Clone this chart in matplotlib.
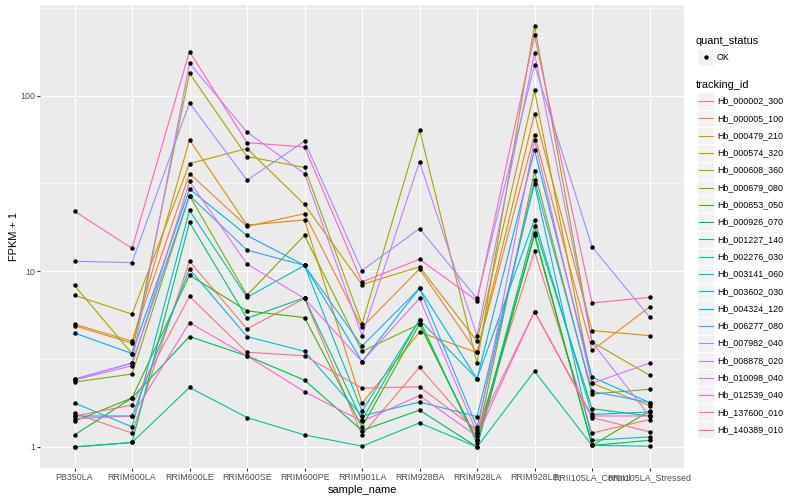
import numpy as np
import matplotlib.pyplot as plt
from matplotlib.lines import Line2D
from matplotlib.patches import Rectangle

plt.rcParams['font.family'] = ['Liberation Sans', 'DejaVu Sans']

samples = ['PB350LA', 'RRIM600LA', 'RRIM600LE', 'RRIM600SE', 'RRIM600PE', 'RRIM901LA',
           'RRIM928BA', 'RRIM928LA', 'RRIM928LE', 'RRII105LA_Control', 'RRII105LA_Stressed']

genes = ['Hb_000002_300', 'Hb_000005_100', 'Hb_000479_210', 'Hb_000574_320', 'Hb_000608_360',
         'Hb_000679_080', 'Hb_000853_050', 'Hb_000926_070', 'Hb_001227_140', 'Hb_002276_030',
         'Hb_003141_060', 'Hb_003602_030', 'Hb_004324_120', 'Hb_006277_080', 'Hb_007982_040',
         'Hb_008878_020', 'Hb_010098_040', 'Hb_012539_040', 'Hb_137600_010', 'Hb_140389_010']

# FPKM + 1, one list per tracking_id, in sample order
hb_000002_300 = [1.55, 1.2, 11.4, 4.7, 7.0, 1.17, 2.84, 1.2, 13, 1.2, 1.43]
hb_000005_100 = [5.0, 4.0, 36, 18, 21.3, 4.8, 10.3, 3.45, 60, 3.54, 6.25]
hb_000479_210 = [4.9, 3.9, 56, 18.3, 19.6, 1.77, 4.5, 3.45, 79, 4.6, 4.3]
hb_000574_320 = [7.3, 5.7, 41, 50, 24, 8.4, 10.6, 4.0, 107, 2.3, 1.72]
hb_000608_360 = [8.3, 3.4, 134, 45, 39, 5.0, 64, 3.0, 250, 3.96, 2.56]
hb_000679_080 = [2.34, 2.6, 27, 7.3, 16, 3.5, 5.0, 1.1, 37, 2.0, 2.13]
hb_000853_050 = [1.4, 1.9, 9.5, 5.95, 5.45, 1.3, 5.0, 1.1, 16, 1.02, 1.6]
hb_000926_070 = [1.17, 1.9, 4.25, 3.3, 2.4, 1.24, 1.62, 1.0, 16.5, 1.02, 1.09]
hb_001227_140 = [1.0, 1.06, 19, 5.4, 7.06, 1.42, 5.3, 1.05, 18, 1.65, 1.5]
hb_002276_030 = [1.0, 1.06, 2.18, 1.47, 1.17, 1.01, 1.37, 1.0, 2.7, 1.02, 1.01]
hb_003141_060 = [1.78, 1.3, 22.2, 7.1, 10.8, 1.6, 5.3, 2.44, 19.7, 1.53, 1.58]
hb_003602_030 = [1.5, 1.5, 10.3, 4.25, 3.5, 1.5, 1.8, 1.49, 31.5, 1.09, 1.14]
hb_004324_120 = [4.45, 3.4, 29.4, 16, 10.8, 3.06, 8.0, 2.44, 49, 2.5, 1.79]
hb_006277_080 = [2.43, 3.0, 27, 13.2, 10.8, 3.75, 8.0, 1.3, 33, 2.07, 1.79]
hb_007982_040 = [11.4, 11.2, 91, 33, 55, 10.1, 17.5, 7.0, 150, 13.8, 5.5]
hb_008878_020 = [2.43, 3.0, 153, 62, 36, 4.3, 42, 4.3, 175, 3.96, 1.5]
hb_010098_040 = [2.4, 2.9, 32.5, 11.0, 7.0, 3.06, 7.0, 1.2, 56, 2.3, 3.0]
hb_012539_040 = [1.45, 1.5, 5.1, 3.3, 2.06, 1.4, 1.96, 1.15, 5.9, 1.5, 1.5]
hb_137600_010 = [22, 13.5, 178, 54, 51, 8.7, 11.7, 6.8, 220, 6.6, 7.1]
hb_140389_010 = [1.5, 1.73, 7.2, 3.46, 3.3, 2.16, 2.2, 1.25, 5.9, 1.47, 1.22]

series = [hb_000002_300, hb_000005_100, hb_000479_210, hb_000574_320, hb_000608_360,
          hb_000679_080, hb_000853_050, hb_000926_070, hb_001227_140, hb_002276_030,
          hb_003141_060, hb_003602_030, hb_004324_120, hb_006277_080, hb_007982_040,
          hb_008878_020, hb_010098_040, hb_012539_040, hb_137600_010, hb_140389_010]

# ggplot default hue palette for 20 levels
colors = ['#F8766D', '#EA8331', '#D89000', '#C09B00', '#A3A500', '#7CAE00', '#39B600',
          '#00BB4E', '#00BF7D', '#00C1A3', '#00BFC4', '#00BAE0', '#00B0F6', '#35A2FF',
          '#9590FF', '#C77CFF', '#E76BF3', '#FA62DB', '#FF62BC', '#FF6C91']

W, H = 800, 500
fig = plt.figure(figsize=(8, 5), dpi=100)
L, R, T, B = 40, 684, 5, 468
ax = fig.add_axes([L / W, 1 - B / H, (R - L) / W, (B - T) / H])
ax.set_facecolor('#EBEBEB')
for s in ax.spines.values():
    s.set_visible(False)

x = np.arange(len(samples))
for vals, c in zip(series, colors):
    ax.plot(x, vals, color=c, lw=0.8, zorder=3)
for vals in series:
    ax.plot(x, vals, 'o', color='black', ms=3.2, mew=0, zorder=4)

ax.set_yscale('log')
ax.set_yticks([1, 10, 100])
ax.set_yticklabels(['1', '10', '100'])
ax.set_yticks([10 ** 0.5, 10 ** 1.5, 10 ** 2.5], minor=True)
ax.yaxis.set_minor_formatter(plt.NullFormatter())
ax.set_xticks(x)
ax.set_xticklabels(samples)
# limits after ticks, so the ticks do not widen the view
ax.set_ylim(10 ** -0.12, 10 ** 2.516)
ax.set_xlim(-0.6, len(samples) - 0.4)
ax.grid(True, which='major', color='white', lw=0.8, zorder=0)
ax.grid(True, which='minor', axis='y', color='white', lw=0.4, zorder=0)
ax.set_axisbelow(True)
ax.tick_params(which='major', length=2, width=0.77, color='#333333',
               labelsize=6.4, labelcolor='#4D4D4D', pad=1.5)
ax.tick_params(which='minor', length=0)

ax.set_xlabel('sample_name', fontsize=7.9, labelpad=2)
ax.set_ylabel('FPKM + 1', fontsize=7.9, labelpad=1)

# legends drawn in figure pixel coordinates
def fx(px):
    return px / W

def fy(py):
    return 1 - py / H

key = 17.3
kx = 697
fig.text(fx(696), fy(40.5), 'quant_status', fontsize=7.9, va='center', ha='left')
fig.add_artist(Rectangle((fx(kx), fy(57.3 + key / 2)), key / W, key / H,
                         transform=fig.transFigure, fc='#F2F2F2', ec='white', lw=0.8))
fig.add_artist(Line2D([fx(kx + key / 2)], [fy(57.3)], marker='o', ms=3.2, mew=0,
                      color='black', transform=fig.transFigure))
fig.text(fx(717), fy(57.3), 'OK', fontsize=6.4, va='center', ha='left')

fig.text(fx(696), fy(84.5), 'tracking_id', fontsize=7.9, va='center', ha='left')
for i, (g, c) in enumerate(zip(genes, colors)):
    yc = 101 + i * key
    fig.add_artist(Rectangle((fx(kx), fy(yc + key / 2)), key / W, key / H,
                             transform=fig.transFigure, fc='#F2F2F2', ec='white', lw=0.8))
    fig.add_artist(Line2D([fx(kx + 1.5), fx(kx + key - 1.5)], [fy(yc), fy(yc)],
                          color=c, lw=0.8, transform=fig.transFigure))
    fig.text(fx(717), fy(yc), g, fontsize=6.4, va='center', ha='left')

fig.savefig('out.png', dpi=100)
